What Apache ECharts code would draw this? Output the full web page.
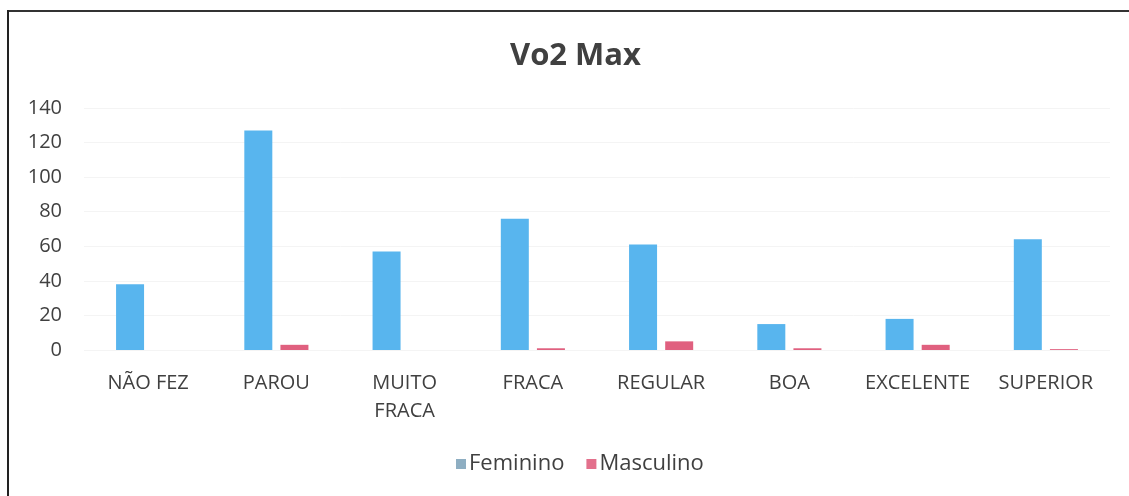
<!DOCTYPE html>
<html>
<head>
<meta charset="utf-8">
<script src="https://cdn.jsdelivr.net/npm/echarts@6/dist/echarts.min.js"></script>
<style>
  html, body { margin: 0; padding: 0; background: #fff; }
  #chart { width: 1129px; height: 496px; }
</style>
</head>
<body>
<div id="chart"></div>
<script>
// categorias e valores
const categorias = ["NÃO FEZ", "PAROU", "MUITO\nFRACA", "FRACA", "REGULAR", "BOA", "EXCELENTE", "SUPERIOR"];
const feminino = [38, 127, 57, 76, 61, 15, 18, 64];
const masculino = [0, 3, 0, 1, 5, 1, 3, 0.5];
const yTicks = { min: 0, max: 140, interval: 20 };

const FONT = "Open Sans";
const chart = echarts.init(document.getElementById("chart"));

chart.setOption({
  animation: false,
  backgroundColor: "#fff",
  title: {
    text: "Vo2 Max",
    left: 505,
    top: 36,
    textStyle: { fontFamily: FONT, fontSize: 31, fontWeight: "bold", color: "#404040" },
  },
  legend: {
    bottom: 16,
    left: 451,
    itemWidth: 10,
    itemHeight: 10,
    itemGap: 22,
    icon: "rect",
    textStyle: { fontFamily: FONT, fontSize: 22, color: "#404040", padding: [0, 0, 0, -2] },
    data: [
      { name: "Feminino", itemStyle: { color: "#8eaec2" } },
      { name: "Masculino", itemStyle: { color: "#e3708c" } },
    ],
  },
  grid: { left: 84, right: 19, top: 108, bottom: 146, containLabel: false },
  xAxis: {
    type: "category",
    data: categorias,
    axisLine: { show: false },
    axisTick: { show: false },
    axisLabel: {
      fontFamily: FONT,
      fontSize: 20,
      color: "#404040",
      margin: 19,
      lineHeight: 28,
      interval: 0,
    },
  },
  yAxis: {
    type: "value",
    ...yTicks,
    axisLine: { show: false },
    axisTick: { show: false },
    axisLabel: { fontFamily: FONT, fontSize: 20, color: "#404040", margin: 22 },
    splitLine: { lineStyle: { color: "#f4f4f4", width: 1 } },
  },
  series: [
    {
      name: "Feminino",
      type: "bar",
      data: feminino,
      barWidth: 28,
      barGap: "29%",
      itemStyle: { color: "#58b5ee" },
    },
    {
      name: "Masculino",
      type: "bar",
      data: masculino,
      barWidth: 28,
      itemStyle: { color: "#e0607f" },
    },
  ],
  graphic: [
    { type: "line", shape: { x1: 8, y1: 11, x2: 1129, y2: 11 }, style: { stroke: "#333", lineWidth: 2 } },
    { type: "line", shape: { x1: 8, y1: 10, x2: 8, y2: 496 }, style: { stroke: "#222", lineWidth: 2 } },
  ],
});
</script>
</body>
</html>
